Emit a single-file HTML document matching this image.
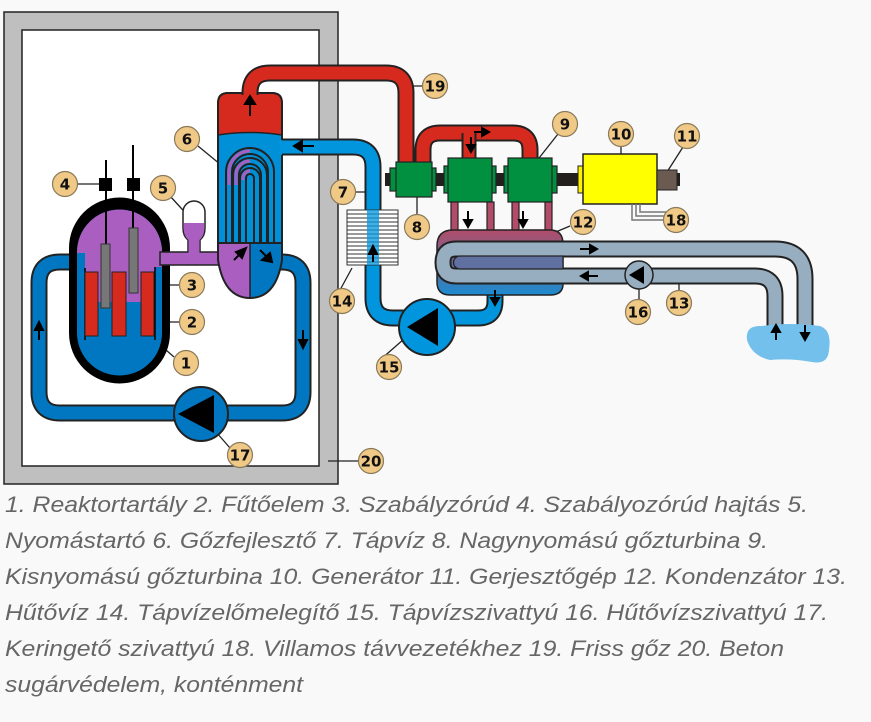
<!DOCTYPE html>
<html><head><meta charset="utf-8"><style>
html,body{margin:0;padding:0;background:#f9f9f9;}
svg{display:block;}
.lbl circle{fill:#f0c987;stroke:#8a7a5a;stroke-width:1.2}
.lbl text{font-family:"DejaVu Sans","Liberation Sans",sans-serif;font-weight:bold;font-size:15px;text-anchor:middle;fill:#111}
.cap{font-family:"Liberation Sans",sans-serif;font-style:italic;font-size:22px;fill:#666}
</style></head><body>
<svg width="871" height="722" viewBox="0 0 871 722" xmlns="http://www.w3.org/2000/svg">
<defs>
<linearGradient id="cg" x1="0" y1="0" x2="0" y2="1">
<stop offset="0" stop-color="#b24c68"/><stop offset="0.5" stop-color="#6a6a9a"/><stop offset="1" stop-color="#1a8ad0"/></linearGradient>
</defs>
<rect width="871" height="722" fill="#f9f9f9"/>
<rect x="4" y="12" width="334" height="472" fill="#bfbfbf" stroke="#222" stroke-width="1.5"/>
<rect x="22" y="30" width="297" height="436" fill="#fff" stroke="#222" stroke-width="1.5"/>

<g stroke="#222" stroke-width="1.3" fill="none">
<path d="M77 184H100"/><path d="M170 196L192 220"/><path d="M198 146L232 174"/>
<path d="M180 285H137"/><path d="M180 322H150"/><path d="M174 357L166 350"/>
<path d="M230 448L210 425"/><path d="M359 461H328"/><path d="M423 86H402"/>
<path d="M331 192H365"/><path d="M417 215V196"/><path d="M340 290L352 268"/>
<path d="M380 360L420 325"/><path d="M558 134L528 172"/><path d="M621 146V165"/>
<path d="M683 147L667 172"/><path d="M570 226L551 234"/><path d="M639 300V280"/>
<path d="M679 291V278"/>
</g>

<path d="M80 262H60Q39 262 39 283V392Q39 413 60 413H282Q303 413 303 392V283Q303 262 282 262H272" fill="none" stroke="#222" stroke-width="17"/>
<path d="M82 262H60Q39 262 39 283V392Q39 413 60 413H282Q303 413 303 392V283Q303 262 282 262H270" fill="none" stroke="#0077c0" stroke-width="13"/>
<circle cx="201" cy="414" r="27" fill="#0077c0" stroke="#222" stroke-width="2"/>
<path d="M178 414L214 395V433Z" fill="#000"/>

<path d="M69 248A50.5 50.5 0 0 1 170 248V333A50.5 50.5 0 0 1 69 333Z" fill="#000"/>
<path d="M77 252A42.5 42.5 0 0 1 162 252V333A42.5 42.5 0 0 1 77 333Z" fill="#0077c0"/>
<path d="M77 252A42.5 42.5 0 0 1 162 252V267H155V302H85V253H77Z" fill="#aa5fc0"/>
<path d="M85 268V340M155 267V340" stroke="#000" stroke-width="1.5"/>
<rect x="85" y="272" width="13" height="64" fill="#d62a1e" stroke="#222"/>
<rect x="112" y="272" width="14" height="64" fill="#d62a1e" stroke="#222"/>
<rect x="141" y="272" width="13" height="64" fill="#d62a1e" stroke="#222"/>
<path d="M106 160V244M133 145V228" stroke="#000" stroke-width="2"/>
<rect x="99" y="178" width="13" height="13" fill="#000"/>
<rect x="127" y="178" width="13" height="13" fill="#000"/>
<rect x="101" y="244" width="9" height="64" fill="#777" stroke="#333"/>
<rect x="129" y="228" width="9" height="65" fill="#777" stroke="#333"/>

<rect x="160" y="252" width="62" height="13" fill="#aa5fc0" stroke="#222" stroke-width="1.5"/>
<rect x="162" y="253.5" width="58" height="10" fill="#aa5fc0"/>
<path d="M188 252V240Q183 236 183 228V212A11 11 0 0 1 205 212V228Q205 236 200 240V252" fill="#fff" stroke="#222" stroke-width="1.5"/>
<path d="M183.7 223H204.3V228Q204.3 236 199.5 240V253H188.5V240Q183.7 236 183.7 228Z" fill="#aa5fc0"/>

<!-- steam generator -->
<path d="M218 243V103Q218 93 228 93H272Q282 93 282 103V243Z" fill="#0090d8"/>
<path d="M218 135V103Q218 93 228 93H272Q282 93 282 103V135Q250 130 218 135Z" fill="#d62a1e" stroke="#222" stroke-width="1.5"/>
<path d="M218 243H250V298Q225 298 218 260Z" fill="#aa5fc0"/>
<path d="M250 243H282V260Q275 298 250 298Z" fill="#0077c0"/>
<path d="M218 243V260Q224 298 250 298Q276 298 282 260V243" fill="none" stroke="#222" stroke-width="2"/>
<path d="M218 103V243M282 103V140M282 155V243" stroke="#222" stroke-width="2"/>
<path d="M218 103Q218 93 228 93H272Q282 93 282 103" fill="none" stroke="#222" stroke-width="2"/>
<path d="M250 243V298" stroke="#222" stroke-width="1.5"/>
<g fill="none" stroke="#222">
<path d="M229 243V172A21 21 0 0 1 271 172V243" stroke-width="8"/>
<path d="M229 243V172A21 21 0 0 1 271 172V243" stroke="#0090d8" stroke-width="4"/>
<path d="M236 243V175A14 14 0 0 1 264 175V243" stroke-width="8"/>
<path d="M236 243V175A14 14 0 0 1 264 175V243" stroke="#0090d8" stroke-width="4"/>
<path d="M243 243V178A7 7 0 0 1 257 178V243" stroke-width="8"/>
<path d="M243 243V178A7 7 0 0 1 257 178V243" stroke="#0090d8" stroke-width="4"/>
</g>
<path d="M229 185V172A21 21 0 0 1 250 151" fill="none" stroke="#aa5fc0" stroke-width="3"/>
<path d="M236 185V175A14 14 0 0 1 250 161" fill="none" stroke="#aa5fc0" stroke-width="3"/>
<path d="M243 180V178A7 7 0 0 1 250 171" fill="none" stroke="#aa5fc0" stroke-width="3"/>
<line x1="218" y1="243" x2="282" y2="243" stroke="#222" stroke-width="2"/>

<path d="M250 95V93Q250 73 270 73H386Q406 73 406 93V163" fill="none" stroke="#222" stroke-width="17"/>
<path d="M250 96V93Q250 73 270 73H386Q406 73 406 93V163" fill="none" stroke="#d62a1e" stroke-width="13"/>
<path d="M423 163V150Q423 133 440 133H513Q530 133 530 150V159" fill="none" stroke="#222" stroke-width="17"/>
<path d="M423 164V150Q423 133 440 133H513Q530 133 530 150V160" fill="none" stroke="#d62a1e" stroke-width="13"/>
<path d="M469 133V159" stroke="#222" stroke-width="15"/>
<path d="M469 133V160" stroke="#d62a1e" stroke-width="11"/>

<path d="M282 147H353Q373 147 373 167V298Q373 318 393 318H478Q495 318 495 301V293" fill="none" stroke="#222" stroke-width="17"/>
<path d="M280 147H353Q373 147 373 167V298Q373 318 393 318H478Q495 318 495 301V292" fill="none" stroke="#0095dd" stroke-width="13"/>
<circle cx="427" cy="327" r="28" fill="#0095dd" stroke="#222" stroke-width="2"/>
<path d="M407 327L438 308V346Z" fill="#000"/>
<rect x="347" y="210" width="51" height="55" fill="#fff" stroke="#333"/>
<g stroke="#333" stroke-width="1">
<path d="M347 214H398M347 218H398M347 222H398M347 226H398M347 230H398M347 234H398M347 238H398M347 242H398M347 246H398M347 250H398M347 254H398M347 258H398M347 262H398"/>
</g>
<rect x="367" y="210" width="12" height="55" fill="#0095dd" opacity="0.75"/>

<rect x="385" y="173" width="295" height="13" fill="#231f1d"/>
<g fill="#009040" stroke="#222" stroke-width="1.2">
<rect x="390" y="168" width="8" height="23"/><rect x="430" y="168" width="6" height="23"/>
<rect x="396" y="162" width="36" height="35"/>
<rect x="444" y="166" width="6" height="27"/><rect x="490" y="166" width="6" height="27"/>
<rect x="448" y="158" width="44" height="44"/>
<rect x="504" y="166" width="6" height="27"/><rect x="551" y="166" width="6" height="27"/>
<rect x="508" y="158" width="44" height="44"/>
</g>
<rect x="578" y="166" width="8" height="27" fill="#ffee00" stroke="#222"/>
<rect x="583" y="154" width="74" height="50" fill="#ffff00" stroke="#222" stroke-width="1.5"/>
<rect x="657" y="170" width="20" height="20" fill="#6b5a50" stroke="#222"/>
<path d="M632 204V220H666M636 204V216H666M640 204V212H666" fill="none" stroke="#777" stroke-width="1.5"/>

<g fill="#b24c68" stroke="#222" stroke-width="1.2">
<rect x="451" y="202" width="7" height="30"/><rect x="487" y="202" width="7" height="30"/>
<rect x="512" y="202" width="7" height="30"/><rect x="545" y="202" width="7" height="30"/>
</g>
<path d="M437 246Q437 230 453 230H550Q563 230 563 244V284Q563 295 550 295H450Q437 295 437 282Z" fill="url(#cg)" stroke="#222" stroke-width="1.5"/>
<path d="M775 328V296Q775 276 755 276H456Q443 276 443 262.5Q443 249 456 249H775Q805 249 805 279V328" fill="none" stroke="#222" stroke-width="17"/>
<path d="M775 330V296Q775 276 755 276H456Q443 276 443 262.5Q443 249 456 249H775Q805 249 805 279V330" fill="none" stroke="#97aec0" stroke-width="13"/>
<path d="M460 256H563V269H460A6.5 6.5 0 0 1 460 256Z" fill="#6070a0" stroke="#222" stroke-width="1.2"/>
<circle cx="639" cy="275" r="14" fill="#97aec0" stroke="#222" stroke-width="1.5"/>
<path d="M629 275L644 266V284Z" fill="#000"/>
<path d="M747 340Q745 325 762 326Q790 322 820 326Q832 330 829 350Q828 365 812 362Q790 358 770 360Q752 356 747 340Z" fill="#74c0ec"/>

<g fill="#000" stroke="#000" stroke-width="2">
<path d="M250 116V102" /><path d="M245 104L250 96L255 104Z"/>
<path d="M300 146H314"/><path d="M294 146L302 141V151Z"/>
<path d="M39 340V328"/><path d="M35 330L39 322L43 330Z"/>
<path d="M303 330V342"/><path d="M299 340L303 348L307 340Z"/>
<path d="M373 262V252"/><path d="M369 254L373 246L377 254Z"/>
<path d="M242 252L234 260"/><path d="M246 248L236 252L242 258Z"/>
<path d="M260 250L268 258"/><path d="M272 262L262 260L270 253Z"/>
<path d="M468 211V222"/><path d="M464 220L468 227L472 220Z"/>
<path d="M523 211V222"/><path d="M519 220L523 227L527 220Z"/>
<path d="M495 290V300"/><path d="M491 298L495 305L499 298Z"/>
<path d="M471 137V147"/><path d="M467 145L471 152L475 145Z"/>
<path d="M474 132H484"/><path d="M482 128L489 132L482 136Z"/>
<path d="M580 249H592"/><path d="M590 245L597 249L590 253Z"/>
<path d="M586 276H598"/><path d="M588 272L581 276L588 280Z"/>
<path d="M776 340V330"/><path d="M772 332L776 325L780 332Z"/>
<path d="M805 325V335"/><path d="M801 333L805 340L809 333Z"/>
</g>

<g class="lbl">
<circle cx="186" cy="363" r="12.5"/><text x="186" y="368.5">1</text>
<circle cx="192" cy="322" r="12.5"/><text x="192" y="327.5">2</text>
<circle cx="192" cy="285" r="12.5"/><text x="192" y="290.5">3</text>
<circle cx="65" cy="184" r="12.5"/><text x="65" y="189.5">4</text>
<circle cx="163" cy="188" r="12.5"/><text x="163" y="193.5">5</text>
<circle cx="187" cy="139" r="12.5"/><text x="187" y="144.5">6</text>
<circle cx="343" cy="192" r="12.5"/><text x="343" y="197.5">7</text>
<circle cx="417" cy="227" r="12.5"/><text x="417" y="232.5">8</text>
<circle cx="565" cy="124" r="12.5"/><text x="565" y="129.5">9</text>
<circle cx="621" cy="134" r="12.5"/><text x="621" y="139.5">10</text>
<circle cx="687" cy="136" r="12.5"/><text x="687" y="141.5">11</text>
<circle cx="583" cy="222" r="12.5"/><text x="583" y="227.5">12</text>
<circle cx="679" cy="303" r="12.5"/><text x="679" y="308.5">13</text>
<circle cx="342" cy="301" r="12.5"/><text x="342" y="306.5">14</text>
<circle cx="389" cy="367" r="12.5"/><text x="389" y="372.5">15</text>
<circle cx="638" cy="312" r="12.5"/><text x="638" y="317.5">16</text>
<circle cx="240" cy="455" r="12.5"/><text x="240" y="460.5">17</text>
<circle cx="676" cy="220" r="12.5"/><text x="676" y="225.5">18</text>
<circle cx="435" cy="86" r="12.5"/><text x="435" y="91.5">19</text>
<circle cx="371" cy="461" r="12.5"/><text x="371" y="466.5">20</text>
</g>

<text class="cap" x="5" y="512" textLength="803" lengthAdjust="spacingAndGlyphs">1. Reaktortartály 2. Fűtőelem 3. Szabályzórúd 4. Szabályozórúd hajtás 5.</text>
<text class="cap" x="5" y="548" textLength="763" lengthAdjust="spacingAndGlyphs">Nyomástartó 6. Gőzfejlesztő 7. Tápvíz 8. Nagynyomású gőzturbina 9.</text>
<text class="cap" x="5" y="584" textLength="842" lengthAdjust="spacingAndGlyphs">Kisnyomású gőzturbina 10. Generátor 11. Gerjesztőgép 12. Kondenzátor 13.</text>
<text class="cap" x="5" y="620" textLength="823" lengthAdjust="spacingAndGlyphs">Hűtővíz 14. Tápvízelőmelegítő 15. Tápvízszivattyú 16. Hűtővízszivattyú 17.</text>
<text class="cap" x="5" y="656" textLength="779" lengthAdjust="spacingAndGlyphs">Keringető szivattyú 18. Villamos távvezetékhez 19. Friss gőz 20. Beton</text>
<text class="cap" x="5" y="692" textLength="298" lengthAdjust="spacingAndGlyphs">sugárvédelem, konténment</text>
</svg>
</body></html>
